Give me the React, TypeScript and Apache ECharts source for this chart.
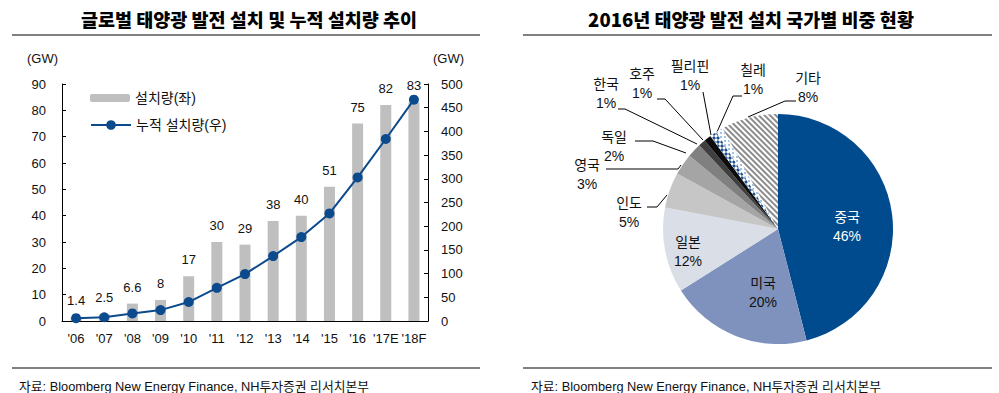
import React, { useEffect, useRef } from "react";
import * as echarts from "echarts";

// ---- Data ----
const years = ["'06", "'07", "'08", "'09", "'10", "'11", "'12", "'13", "'14", "'15", "'16", "'17E", "'18F"];
const annualInstall = [1.4, 2.5, 6.6, 8, 17, 30, 29, 38, 40, 51, 75, 82, 83];
const cumulativeInstall = [6, 8, 16, 23, 40, 70, 99, 137, 177, 227, 303, 384, 467];

const countries = ["중국", "미국", "일본", "인도", "영국", "독일", "한국", "호주", "필리핀", "칠레", "기타"];
const shares = [46, 20, 12, 5, 3, 2, 1, 1, 1, 1, 8];

const leftTitle = "글로벌 태양광 발전 설치 및 누적 설치량 추이";
const rightTitle = "2016년 태양광 발전 설치 국가별 비중 현황";
const sourceText = "자료: Bloomberg New Energy Finance, NH투자증권 리서치본부";
const barName = "설치량(좌)";
const lineName = "누적 설치량(우)";

// ---- Styles ----
const FONT = "'Liberation Sans', Arial, 'Noto Sans CJK KR', sans-serif";
const TITLE_FONT = "'Noto Sans CJK KR', 'Liberation Sans', sans-serif";
const TEXT = "#111";

const sliceColors = ["#004b8d", "#7f92be", "#dadfe7", "#c6c6c6", "#a5a5a5", "#808080", "#3f3f3f", "#0d0d0d", "#ffffff", "#ffffff", "#ffffff"];
const sliceDecals: any[] = [
  null, null, null, null, null, null, null, null,
  { symbol: "diamond", symbolSize: 1, dashArrayX: [4, 0], dashArrayY: [4, 0], color: "#1b4f8a" },
  { symbol: "rect", symbolSize: 1, dashArrayX: [2, 2], dashArrayY: [2, 2], color: "#9fc3e6" },
  { symbol: "rect", symbolSize: 1, dashArrayX: [[8, 0]], dashArrayY: [2, 2], rotation: Math.PI / 4, color: "#8c8c8c" },
];

// label placement (layout, in px)
const pieLabelLayout: any[] = [
  { x: 847, y: 226, color: "#fff" },
  { x: 763, y: 292 },
  { x: 688, y: 251 },
  { x: 629, y: 212, line: [[667, 195], [657, 207], [647, 207]] },
  { x: 587, y: 174, line: [[681, 165], [678, 169], [606, 169]] },
  { x: 614, y: 146, line: [[686, 153], [653, 141], [635, 141]] },
  { x: 606, y: 93, line: [[697, 144], [625, 109], [618, 109]] },
  { x: 642, y: 83, line: [[703, 140], [665, 99], [657, 99]] },
  { x: 690, y: 75, line: [[711, 135], [703, 92], [703, 92]] },
  { x: 753, y: 79, line: [[717, 132], [733, 96], [742, 96]] },
  { x: 808, y: 87, line: [[748, 117], [785, 101], [796, 101]] },
];

export default function App() {
  const ref = useRef<HTMLDivElement>(null);

  useEffect(() => {
    if (!ref.current) return;
    const chart = echarts.init(ref.current, null, { renderer: "svg" });

    const pieData = countries.map((name, i) => {
      const inside = !pieLabelLayout[i].line;
      const item: any = {
        name,
        value: shares[i],
        itemStyle: { color: sliceColors[i] },
        label: { color: pieLabelLayout[i].color || TEXT },
        labelLine: { show: !inside },
      };
      if (sliceDecals[i]) item.itemStyle.decal = sliceDecals[i];
      return item;
    });

    const titleStyle = { fontFamily: TITLE_FONT, fontSize: 18.5, fontWeight: 900, color: "#000" };
    const srcStyle = { fontFamily: FONT, fontSize: 12.8, fontWeight: "normal", color: TEXT };

    const option: any = {
      animation: false,
      backgroundColor: "#fff",
      textStyle: { fontFamily: FONT },
      title: [
        { text: leftTitle, left: 244, top: 5, textAlign: "center", textStyle: titleStyle },
        { text: rightTitle, left: 746, top: 5, textAlign: "center", textStyle: titleStyle },
        { text: sourceText, left: 14, top: 375, textStyle: srcStyle },
        { text: sourceText, left: 526, top: 375, textStyle: srcStyle },
      ],
      graphic: [
        { type: "line", shape: { x1: 12, y1: 35, x2: 480, y2: 35 }, style: { stroke: "#808080", lineWidth: 2 } },
        { type: "line", shape: { x1: 12, y1: 368, x2: 480, y2: 368 }, style: { stroke: "#808080", lineWidth: 2 } },
        { type: "line", shape: { x1: 523, y1: 35, x2: 992, y2: 35 }, style: { stroke: "#808080", lineWidth: 2 } },
        { type: "line", shape: { x1: 523, y1: 368, x2: 992, y2: 368 }, style: { stroke: "#808080", lineWidth: 2 } },
        { type: "text", left: 27, top: 52, style: { text: "(GW)", fontSize: 13, fontFamily: FONT, fill: TEXT } },
        { type: "text", left: 433, top: 52, style: { text: "(GW)", fontSize: 13, fontFamily: FONT, fill: TEXT } },
      ],
      legend: [
        {
          data: [barName], left: 85, top: 86, itemWidth: 40, itemHeight: 8, selectedMode: false,
          textStyle: { fontSize: 14, color: TEXT, fontFamily: FONT },
        },
        {
          data: [lineName], left: 85, top: 113, itemWidth: 40, itemHeight: 12, selectedMode: false,
          textStyle: { fontSize: 14, color: TEXT, fontFamily: FONT },
        },
      ],
      grid: [{ left: 62, top: 84, width: 366, height: 237 }],
      xAxis: [
        {
          type: "category", data: years, gridIndex: 0,
          axisLine: { lineStyle: { color: "#000", width: 1 } },
          axisTick: { show: false },
          axisLabel: { interval: 0, fontSize: 13, color: TEXT, margin: 11, fontFamily: FONT },
        },
      ],
      yAxis: [
        {
          type: "value", min: 0, max: 90, interval: 10, gridIndex: 0,
          axisLine: { show: true, lineStyle: { color: "#000" } },
          axisTick: { show: true, inside: true, length: 4, lineStyle: { color: "#000" } },
          splitLine: { show: false },
          axisLabel: { fontSize: 13, color: TEXT, margin: 16, fontFamily: FONT },
        },
        {
          type: "value", min: 0, max: 500, interval: 50, gridIndex: 0, position: "right",
          axisLine: { show: true, lineStyle: { color: "#000" } },
          axisTick: { show: true, inside: true, length: 4, lineStyle: { color: "#000" } },
          splitLine: { show: false },
          axisLabel: { fontSize: 13, color: TEXT, margin: 13, fontFamily: FONT },
        },
      ],
      series: [
        {
          name: barName, type: "bar", data: annualInstall, xAxisIndex: 0, yAxisIndex: 0,
          barWidth: 11, itemStyle: { color: "#bfbfbf" },
          label: { show: true, position: "top", distance: 10, fontSize: 13, color: TEXT, fontFamily: FONT },
        },
        {
          name: lineName, type: "line", data: cumulativeInstall, xAxisIndex: 0, yAxisIndex: 1,
          symbol: "circle", symbolSize: 10,
          lineStyle: { color: "#0b4a8c", width: 2 },
          itemStyle: { color: "#0b4a8c" },
          z: 5,
        },
        {
          name: "2016", type: "pie", center: [778, 229], radius: 115,
          startAngle: 90, clockwise: true, avoidLabelOverlap: false,
          data: pieData,
          itemStyle: { borderWidth: 0 },
          label: {
            show: true, position: "outside", formatter: "{b}\n{c}%",
            fontSize: 14, lineHeight: 19, color: TEXT, fontFamily: FONT, align: "center",
          },
          labelLine: { show: true, lineStyle: { color: "#000", width: 1 } },
          labelLayout: (params: any) => {
            const p = pieLabelLayout[params.dataIndex];
            const res: any = { x: p.x, y: p.y, align: "center", verticalAlign: "middle" };
            if (p.line) res.labelLinePoints = p.line;
            return res;
          },
        },
      ],
    };

    chart.setOption(option);
    return () => chart.dispose();
  }, []);

  return (
    <div
      ref={ref}
      style={{ position: "fixed", left: 0, top: 0, width: 999, height: 393, background: "#fff" }}
    />
  );
}
